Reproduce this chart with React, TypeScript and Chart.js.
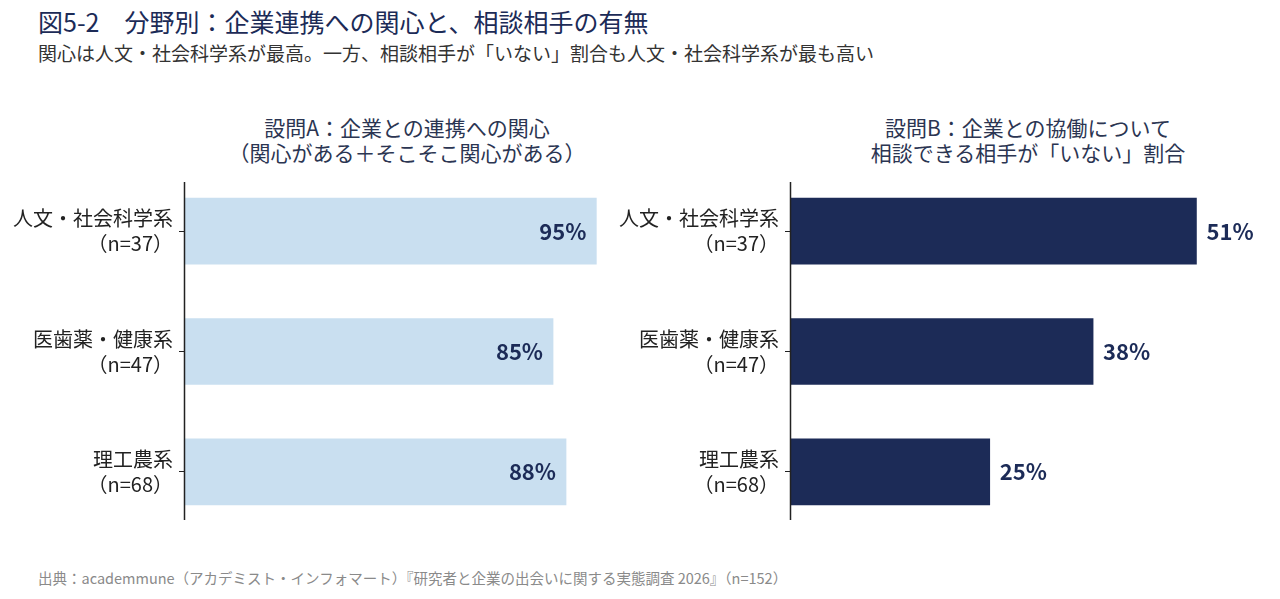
import React, { useEffect, useRef } from "react";
import { Chart, registerables } from "chart.js";

Chart.register(...registerables);

const categoryNames = ["人文・社会科学系", "医歯薬・健康系", "理工農系"];
const sampleSizes = ["（n=37）", "（n=47）", "（n=68）"];
const interestValues = [95, 85, 88];
const noAdvisorValues = [51, 38, 25];

const titleText = "図5-2　分野別：企業連携への関心と、相談相手の有無";
const subtitleText = "関心は人文・社会科学系が最高。一方、相談相手が「いない」割合も人文・社会科学系が最も高い";
const panelATitle = ["設問A：企業との連携への関心", "（関心がある＋そこそこ関心がある）"];
const panelBTitle = ["設問B：企業との協働について", "相談できる相手が「いない」割合"];
const sourceText = "出典：academmune（アカデミスト・インフォマート）『研究者と企業の出会いに関する実態調査 2026』（n=152）";

const FONT = "'Noto Sans CJK JP', 'Noto Sans', sans-serif";
const NAVY = "#1c2b57";
const LIGHT = "#c9dff0";

type PanelProps = {
  values: number[];
  max: number;
  color: string;
  inside: boolean;
  axisWidth: number;
  padRight: number;
  width: number;
};

function Panel({ values, max, color, inside, axisWidth, padRight, width }: PanelProps) {
  const ref = useRef<HTMLCanvasElement | null>(null);
  useEffect(() => {
    if (!ref.current) return;
    const labels = categoryNames.map((c, i) => [c, sampleSizes[i]]);
    const valuePlugin = {
      id: "valueLabels",
      afterDatasetsDraw(chart: any) {
        const ctx = chart.ctx;
        const meta = chart.getDatasetMeta(0);
        ctx.save();
        ctx.font = `bold 22px ${FONT}`;
        ctx.fillStyle = NAVY;
        ctx.textBaseline = "middle";
        meta.data.forEach((bar: any, i: number) => {
          const txt = `${values[i]}%`;
          if (inside) {
            ctx.textAlign = "right";
            ctx.fillText(txt, bar.x - 10, bar.y);
          } else {
            ctx.textAlign = "left";
            ctx.fillText(txt, bar.x + 10, bar.y);
          }
        });
        ctx.restore();
      },
    };
    const axisLinePlugin = {
      id: "axisLine",
      afterDraw(chart: any) {
        const { ctx, chartArea } = chart;
        ctx.save();
        ctx.strokeStyle = "#222";
        ctx.lineWidth = 1.5;
        ctx.beginPath();
        ctx.moveTo(chartArea.left - 0.5, chartArea.top + 11);
        ctx.lineTo(chartArea.left - 0.5, chartArea.bottom - 12);
        ctx.stroke();
        ctx.restore();
      },
    };
    const chart = new Chart(ref.current, {
      type: "bar",
      data: {
        labels,
        datasets: [
          {
            data: values,
            backgroundColor: color,
            borderWidth: 0,
            barThickness: 66,
          },
        ],
      },
      options: {
        indexAxis: "y",
        animation: false,
        responsive: false,
        devicePixelRatio: 1,
        layout: { padding: { top: 11, bottom: 18, right: padRight, left: 0 } },
        plugins: { legend: { display: false }, tooltip: { enabled: false } },
        scales: {
          x: { display: false, min: 0, max },
          y: {
            afterFit(scale: any) {
              scale.width = axisWidth;
              scale.paddingTop = 0;
              scale.paddingBottom = 0;
            },
            border: { display: false },
            grid: {
              offset: false,
              drawOnChartArea: false,
              drawTicks: true,
              tickLength: 6,
              color: "#222",
              lineWidth: 1,
            },
            ticks: {
              color: "#222",
              padding: 6,
              font: { family: FONT, size: 20, lineHeight: 1.25 },
            },
          },
        },
      },
      plugins: [valuePlugin, axisLinePlugin],
    });
    return () => chart.destroy();
  }, []);
  return <canvas ref={ref} width={width} height={390} />;
}

export default function App() {
  const panelTitleStyle: React.CSSProperties = {
    position: "absolute",
    width: 440,
    top: 115,
    fontSize: 21,
    lineHeight: "25px",
    color: "#2b3552",
    textAlign: "center",
    whiteSpace: "nowrap",
  };
  return (
    <div
      style={{
        position: "absolute",
        left: 0,
        top: 0,
        width: 1280,
        height: 599,
        background: "#fff",
        fontFamily: FONT,
        overflow: "hidden",
      }}
    >
      <div style={{ position: "absolute", left: 38, top: 4, fontSize: 25, lineHeight: "34px", color: NAVY, whiteSpace: "nowrap" }}>
        {titleText}
      </div>
      <div style={{ position: "absolute", left: 38, top: 40, fontSize: 19, lineHeight: "26px", color: "#333", whiteSpace: "nowrap" }}>
        {subtitleText}
      </div>
      <div style={{ ...panelTitleStyle, left: 187 }}>
        {panelATitle.map((t, i) => (
          <div key={i}>{t}</div>
        ))}
      </div>
      <div style={{ ...panelTitleStyle, left: 808 }}>
        {panelBTitle.map((t, i) => (
          <div key={i}>{t}</div>
        ))}
      </div>
      <div style={{ position: "absolute", left: 0, top: 160 }}>
        <Panel values={interestValues} max={100} color={LIGHT} inside={true} axisWidth={185} padRight={22} width={640} />
      </div>
      <div style={{ position: "absolute", left: 600, top: 160 }}>
        <Panel values={noAdvisorValues} max={60} color={NAVY} inside={false} axisWidth={191} padRight={12} width={680} />
      </div>
      <div style={{ position: "absolute", left: 38, top: 568, fontSize: 14.5, lineHeight: "20px", color: "#8a8a8a", whiteSpace: "nowrap" }}>
        {sourceText}
      </div>
    </div>
  );
}
